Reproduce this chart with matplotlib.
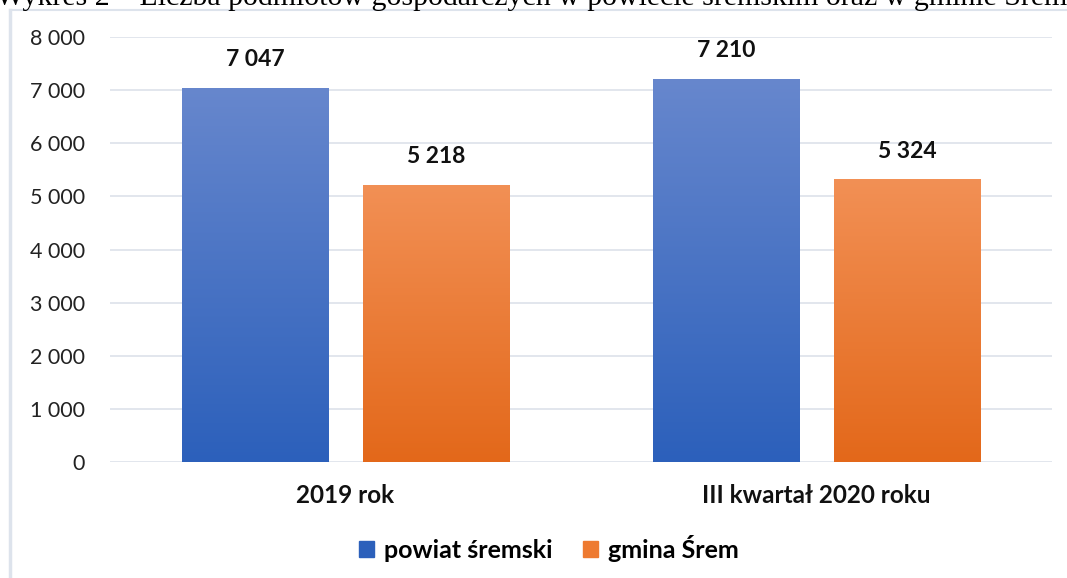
import matplotlib
matplotlib.use("Agg")
import matplotlib.pyplot as plt
import numpy as np
from matplotlib.colors import LinearSegmentedColormap
from matplotlib.patches import Rectangle
from matplotlib.lines import Line2D

categories = ["2019 rok", "III kwartał 2020 roku"]
series_names = ["powiat śremski", "gmina Śrem"]
powiat = [7047, 7210]
gmina = [5218, 5324]
yticks = [0, 1000, 2000, 3000, 4000, 5000, 6000, 7000, 8000]
caption = "Wykres 2 – Liczba podmiotów gospodarczych w powiecie śremskim oraz w gminie Śrem"

def fmt(v):
    return f"{v:,}".replace(",", " ")

plt.rcParams['font.family'] = ['Lato', 'DejaVu Sans']

fig = plt.figure(figsize=(10.67, 5.78), dpi=100)
ax = fig.add_axes([110/1067, 116/578, 942/1067, 425/578])

grads = [("#6787CD", "#2C60BB"), ("#F29055", "#E3681A")]
x = np.arange(len(categories))
width = 0.31
offs = [-0.1925, 0.1925]
grad = np.linspace(1, 0, 256).reshape(-1, 1)
for vals, off, (top, bot) in zip([powiat, gmina], offs, grads):
    cmap = LinearSegmentedColormap.from_list("g", [bot, top])
    bars = ax.bar(x + off, vals, width, color="none", edgecolor="none", zorder=2)
    for b, v in zip(bars, vals):
        x0, w, h = b.get_x(), b.get_width(), b.get_height()
        im = ax.imshow(grad, extent=[x0, x0 + w, 0, h], aspect="auto",
                       cmap=cmap, vmin=0, vmax=1, zorder=2, origin="upper")
        im.set_clip_path(b)
        ax.text(x0 + w / 2, h + 330, fmt(v), ha="center", va="bottom",
                fontsize=16.5, fontweight="bold", color="#111111")

ax.set_xlim(-0.5, 1.5)
ax.set_ylim(0, 8000)
ax.set_yticks(yticks)
ax.set_yticklabels([fmt(t) for t in yticks], fontsize=15.5, color="#222222")
ax.set_xticks(x)
ax.set_xticklabels(categories, fontsize=17.5, fontweight="bold", color="#111111")
ax.tick_params(axis="y", length=0, pad=18)
ax.tick_params(axis="x", length=0, pad=16)
ax.grid(axis="y", color="#DDE2EA", linewidth=1.2, zorder=0)
ax.set_axisbelow(True)
for s in ax.spines.values():
    s.set_visible(False)

handles = [Rectangle((0, 0), 1, 1, color=grads[0][1]),
           Rectangle((0, 0), 1, 1, color="#EE7A30")]
leg = fig.legend(handles, series_names, loc="center", bbox_to_anchor=(549/1067, 1 - 548/578),
                 ncol=2, frameon=False, prop={"size": 18, "weight": "bold"},
                 handlelength=0.6, handleheight=0.6, handletextpad=0.4, columnspacing=1.2)

# frame of the embedded chart
fig.add_artist(Line2D([10/1067, 10/1067], [0, 1 - 10/578], color="#DDE3EC", linewidth=2.5))
fig.add_artist(Line2D([10/1067, 1], [1 - 10/578, 1 - 10/578], color="#DDE3EC", linewidth=1.5))

# caption above the chart, clipped by the top edge as in the source
fig.text(-4/1067, 1 - 5/578, caption,
         family="Liberation Serif", fontsize=21.5, ha="left", va="baseline", color="black")

fig.savefig("out.png", dpi=100)
